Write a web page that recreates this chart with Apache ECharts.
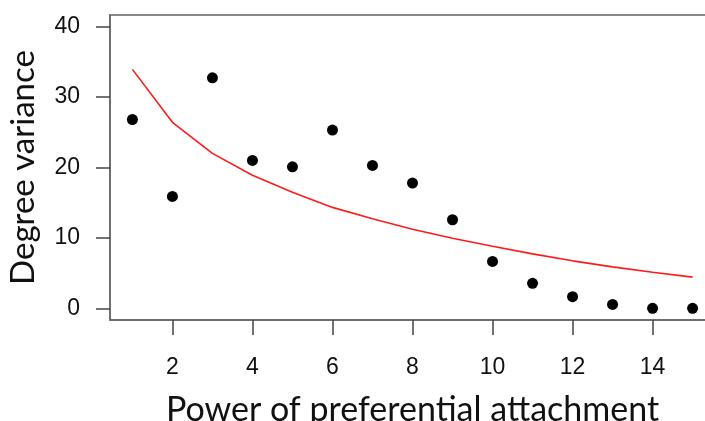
<!DOCTYPE html>
<html>
<head>
<meta charset="utf-8">
<script src="https://cdn.jsdelivr.net/npm/echarts@6/dist/echarts.min.js"></script>
<style>
  html, body { margin: 0; padding: 0; background: #fff; }
  #chart { width: 705px; height: 421px; }
</style>
</head>
<body>
<div id="chart"></div>
<script>
  // power of preferential attachment
  const powers = [1, 2, 3, 4, 5, 6, 7, 8, 9, 10, 11, 12, 13, 14, 15];
  // observed degree variance (dots)
  const observed = [26.8, 15.9, 32.7, 21.0, 20.1, 25.3, 20.3, 17.8, 12.6, 6.7, 3.6, 1.7, 0.6, 0.05, 0.05];
  // fitted curve (red line)
  const fitted = [33.9, 26.4, 22.0, 18.9, 16.5, 14.35, 12.75, 11.25, 9.97, 8.85, 7.77, 6.78, 5.93, 5.17, 4.47];
  const xTicks = [2, 4, 6, 8, 10, 12, 14];
  const yTicks = [0, 10, 20, 30, 40];

  const chart = echarts.init(document.getElementById('chart'));
  const tickFont = 'Liberation Sans, Arial, sans-serif';
  const titleFont = 'Lato, sans-serif';

  const option = {
    animation: false,
    grid: {
      left: 110,
      top: 15,
      width: 605, // right edge runs off the page, like the source
      height: 305,
      outerBoundsMode: 'none',
      containLabel: false,
      show: true,
      borderColor: '#666',
      borderWidth: 1.5,
      backgroundColor: 'transparent'
    },
    xAxis: {
      type: 'value',
      min: 0.44,
      max: 15.56,
      name: 'Power of preferential attachment',
      nameLocation: 'middle',
      nameGap: 73,
      nameTextStyle: { fontFamily: titleFont, fontSize: 34, color: '#111' },
      axisLine: { show: true, onZero: false, lineStyle: { color: '#666', width: 1.5 } },
      axisTick: { show: true, length: 15, customValues: xTicks, lineStyle: { color: '#444', width: 1.5 } },
      axisLabel: { customValues: xTicks, margin: 36, fontFamily: tickFont, fontSize: 23, color: '#111' },
      splitLine: { show: false }
    },
    yAxis: {
      type: 'value',
      min: -1.6,
      max: 41.6,
      name: 'Degree variance',
      nameLocation: 'middle',
      nameGap: 70,
      nameTextStyle: { fontFamily: titleFont, fontSize: 33, color: '#111' },
      axisLine: { show: true, onZero: false, lineStyle: { color: '#666', width: 1.5 } },
      axisTick: { show: true, length: 14, customValues: yTicks, lineStyle: { color: '#444', width: 1.5 } },
      axisLabel: { customValues: yTicks, margin: 30, fontFamily: tickFont, fontSize: 23, color: '#111' },
      splitLine: { show: false }
    },
    series: [
      {
        name: 'fitted',
        type: 'line',
        data: powers.map((p, i) => [p, fitted[i]]),
        showSymbol: false,
        symbol: 'none',
        lineStyle: { color: '#ff1a1a', width: 1.6 },
        z: 2
      },
      {
        name: 'observed',
        type: 'scatter',
        data: powers.map((p, i) => [p, observed[i]]),
        symbol: 'circle',
        symbolSize: 11,
        itemStyle: { color: '#000', opacity: 1 },
        z: 3
      }
    ]
  };
  chart.setOption(option);
</script>
</body>
</html>
